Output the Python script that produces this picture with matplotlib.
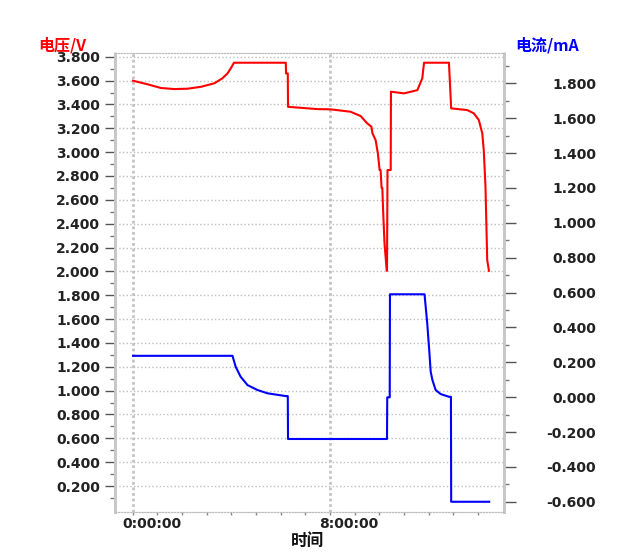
# battery test curve: voltage (top, left axis) and current (bottom, right axis)
# two y axes sharing one time axis
import matplotlib
matplotlib.use("Agg")
import matplotlib.pyplot as plt
import matplotlib.transforms as mtransforms
import numpy as np

# voltage curve, time in hours
volt_t = [0.02, 0.61, 1.15, 1.69, 2.23, 2.77, 3.31, 3.64, 3.85, 3.98, 4.11,
          6.21, 6.22, 6.29, 6.30, 6.81, 7.49, 8.02, 8.83, 9.24, 9.51, 9.68,
          9.72, 9.85, 9.94, 10.01, 10.05, 10.09, 10.12, 10.16, 10.21, 10.30,
          10.31, 10.33, 10.46, 10.47, 11.00, 11.54, 11.74, 11.81, 12.82, 12.91,
          13.56, 13.83, 14.03, 14.17, 14.23, 14.30, 14.37, 14.44]
volt_v = [3.599, 3.569, 3.538, 3.529, 3.532, 3.548, 3.577, 3.619, 3.661, 3.703, 3.750,
          3.750, 3.660, 3.660, 3.380, 3.372, 3.361, 3.359, 3.339, 3.303, 3.241, 3.213,
          3.158, 3.100, 2.990, 2.850, 2.850, 2.700, 2.700, 2.470, 2.230, 2.005,
          2.005, 2.850, 2.850, 3.507, 3.493, 3.520, 3.620, 3.750, 3.750, 3.367,
          3.353, 3.325, 3.269, 3.158, 3.018, 2.710, 2.095, 2.005]

# current curve, time in hours
curr_t = [0.02, 4.05, 4.18, 4.38, 4.66, 5.06, 5.47, 6.21, 6.29, 6.30,
          10.31, 10.32, 10.42, 10.43, 11.83, 11.94, 12.02, 12.08, 12.15, 12.28,
          12.48, 12.82, 12.90, 12.91, 14.45]
curr_i = [0.237, 0.237, 0.174, 0.117, 0.069, 0.041, 0.022, 0.006, 0.006, -0.240,
          -0.240, -0.001, -0.001, 0.590, 0.590, 0.423, 0.270, 0.146, 0.098, 0.041,
          0.018, 0.002, 0.002, -0.600, -0.600]

# tick labels
time_ticks = [0, 8]
time_labels = ["0:00:00", "8:00:00"]

cjk = ["Noto Sans CJK SC", "DejaVu Sans"]
tick_color = "#222222"
grid_color = "#bdbdbd"


def setup_axes(fig):
    ax = fig.add_axes([115 / 619, 1 - 511.7 / 556, 389 / 619, 459 / 556])
    ax2 = ax.twinx()
    return ax, ax2


def draw_curves(ax, ax2):
    ax.plot(volt_t, volt_v, color="#ff0000", lw=1.5)
    ax2.plot(curr_t, curr_i, color="#0000ff", lw=1.5)


def style_axes(fig, ax, ax2):
    ax.set_xlim(-0.71, 15.05)
    ax.set_ylim(-0.0155, 3.834)
    ax2.set_ylim(-0.657, 1.9755)

    # left axis: volts
    ax.set_yticks(np.round(np.arange(0.2, 3.81, 0.2), 1))
    ax.set_yticks(np.round(np.arange(0.1, 3.81, 0.2), 1), minor=True)
    ax.yaxis.set_major_formatter(matplotlib.ticker.FormatStrFormatter("%.3f"))
    ax.tick_params(axis="y", which="major", length=7.2, width=1, pad=3.6,
                   colors="#555555", labelcolor=tick_color, labelsize=10)
    ax.tick_params(axis="y", which="minor", length=3.6, width=1, colors="#777777")

    # right axis: mA
    ax2.set_yticks(np.round(np.arange(-0.6, 1.81, 0.2), 1))
    ax2.set_yticks(np.round(np.arange(-0.5, 1.91, 0.2), 1), minor=True)
    ax2.yaxis.set_major_formatter(matplotlib.ticker.FormatStrFormatter("%.3f"))
    ax2.tick_params(axis="y", which="major", length=8.6, width=1, pad=57.6,
                    colors="#555555", labelcolor=tick_color, labelsize=10)
    ax2.tick_params(axis="y", which="minor", length=3.6, width=1, colors="#777777")
    for lab in ax2.get_yticklabels():
        lab.set_horizontalalignment("right")
        lab.set_fontweight("bold")
    for lab in ax.get_yticklabels():
        lab.set_fontweight("bold")

    # time axis
    ax.set_xticks(time_ticks)
    ax.set_xticklabels(time_labels, fontsize=10, fontweight="bold", color=tick_color)
    ax.set_xticks(list(range(1, 15)), minor=True)
    ax.tick_params(axis="x", which="both", length=2.5, width=1, pad=1.5,
                   colors="#888888", labelcolor=tick_color)
    shift = mtransforms.ScaledTranslation(-0.105, 0, fig.dpi_scale_trans)
    for lab in ax.get_xticklabels():
        lab.set_horizontalalignment("left")
        lab.set_transform(lab.get_transform() + shift)

    # grid: horizontal lines at volt ticks, vertical lines at time ticks
    ax.grid(axis="y", which="major", color=grid_color, ls=":", lw=1)
    ax.grid(axis="x", which="major", color="#c4c4c4", ls=(0, (1, 1)), lw=2)

    for a in (ax, ax2):
        a.spines["left"].set_color("#c8c8c8")
        a.spines["right"].set_color("#c8c8c8")
        a.spines["left"].set_linewidth(2)
        a.spines["right"].set_linewidth(2)
        a.spines["left"].set_linestyle((0, (1, 1)))
        a.spines["right"].set_linestyle((0, (1, 1)))
        a.spines["top"].set_color(grid_color)
        a.spines["bottom"].set_color(grid_color)
        a.spines["top"].set_linestyle(":")
        a.spines["bottom"].set_linestyle(":")

    ax.set_xlabel("时间", family=cjk, fontsize=12, fontweight="bold", color="#111111")
    ax.xaxis.set_label_coords(0.494, -0.045)

    fig.text(38 / 619, 1 - 45 / 556, "电压/V", family=cjk, fontsize=11.5,
             fontweight="bold", color="#ff0000", ha="left", va="center")
    fig.text(515 / 619, 1 - 45 / 556, "电流/mA", family=cjk, fontsize=11.5,
             fontweight="bold", color="#0000ff", ha="left", va="center")


def main():
    fig = plt.figure(figsize=(6.19, 5.56), dpi=100)
    ax, ax2 = setup_axes(fig)
    draw_curves(ax, ax2)
    style_axes(fig, ax, ax2)
    fig.savefig("out.png", dpi=100, facecolor="white")


main()
